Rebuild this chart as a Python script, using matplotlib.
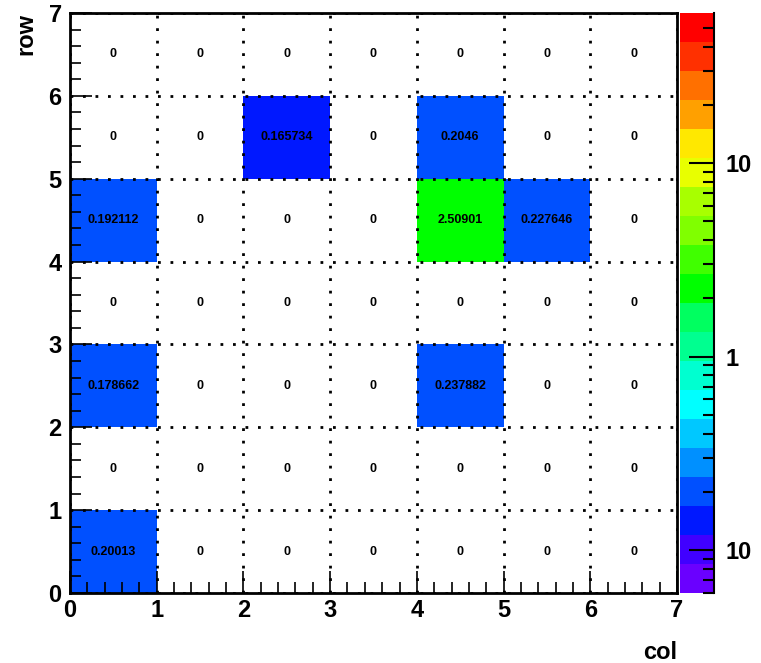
import numpy as np
import matplotlib
matplotlib.use('Agg')
import matplotlib.pyplot as plt
from matplotlib.colors import LogNorm, ListedColormap
from matplotlib.ticker import MultipleLocator, FixedLocator, LogLocator, NullFormatter

plt.rcParams['font.family'] = ['Liberation Sans', 'DejaVu Sans']
plt.rcParams['font.weight'] = 'bold'

# bin edges (col, row) and cell contents, rows listed from row 0 upwards
col_edges = [0, 1, 2, 3, 4, 5, 6, 7]
row_edges = [0, 1, 2, 3, 4, 5, 6, 7]
cell_values = [
    [0.20013, 0, 0, 0, 0, 0, 0],
    [0, 0, 0, 0, 0, 0, 0],
    [0.178662, 0, 0, 0, 0.237882, 0, 0],
    [0, 0, 0, 0, 0, 0, 0],
    [0.192112, 0, 0, 0, 2.50901, 0.227646, 0],
    [0, 0, 0.165734, 0, 0.2046, 0, 0],
    [0, 0, 0, 0, 0, 0, 0],
]
z_min, z_max = 0.06, 59.6
cbar_ticks = [0.1, 1, 10]
cbar_labels = ['10', '1', '10']

# ROOT-like rainbow palette, 20 contour bands from violet to red
band_colors = ['#6a00ff', '#4000ff', '#0018ff', '#0050ff', '#0090ff',
               '#00c8ff', '#00ffff', '#00ffd0', '#00ff90', '#00ff60',
               '#00ff00', '#40ff00', '#80ff00', '#a8ff00', '#e8ff00',
               '#ffe800', '#ffa000', '#ff7000', '#ff3000', '#ff0000']
palette = ListedColormap(band_colors)

vals = np.array(cell_values, dtype=float)
masked = np.ma.masked_where(vals <= 0, vals)

fig = plt.figure(figsize=(7.61, 6.63), dpi=100)
ax = fig.add_axes([70 / 761, 70 / 663, 607 / 761, 580 / 663])
cax = fig.add_axes([680 / 761, 70 / 663, 34 / 761, 580 / 663])

mesh = ax.pcolormesh(col_edges, row_edges, masked, cmap=palette,
                     norm=LogNorm(vmin=z_min, vmax=z_max))

# bin contents as text
for r in range(len(row_edges) - 1):
    for c in range(len(col_edges) - 1):
        ax.text(c + 0.5, r + 0.5, '%g' % vals[r, c], ha='center', va='center',
                fontsize=9, fontweight='bold')

ax.set_xlim(col_edges[0], col_edges[-1])
ax.set_ylim(row_edges[0], row_edges[-1])
ax.xaxis.set_major_locator(MultipleLocator(1))
ax.yaxis.set_major_locator(MultipleLocator(1))
ax.xaxis.set_minor_locator(MultipleLocator(0.2))
ax.yaxis.set_minor_locator(MultipleLocator(0.2))
ax.tick_params(which='both', direction='in', top=False, right=False,
               labelsize=17, width=1.2)
ax.tick_params(which='major', length=16)
ax.tick_params(which='minor', length=8)
ax.tick_params(axis='x', pad=4)
ax.tick_params(axis='y', pad=6)
for lab in ax.get_xticklabels() + ax.get_yticklabels():
    lab.set_fontweight('bold')
ax.grid(True, which='major', color='black', linestyle=(0, (1, 3.5)), linewidth=2)
ax.set_axisbelow(False)
for sp in ax.spines.values():
    sp.set_linewidth(2)

ax.set_xlabel('col', fontsize=17, fontweight='bold', loc='right', labelpad=14)
ax.set_ylabel('row', fontsize=17, fontweight='bold', loc='top', labelpad=8)

cb = fig.colorbar(mesh, cax=cax)
cb.outline.set_visible(False)
cax.yaxis.set_major_locator(FixedLocator(cbar_ticks))
cax.set_yticklabels(cbar_labels)
cax.yaxis.set_minor_locator(LogLocator(base=10, subs=np.arange(2, 10)))
cax.yaxis.set_minor_formatter(NullFormatter())
cax.tick_params(which='both', direction='in', right=True, left=False,
                labelsize=17, width=1.5, pad=8)
cax.tick_params(which='major', length=18)
cax.tick_params(which='minor', length=8)
for lab in cax.get_yticklabels():
    lab.set_fontweight('bold')
cax.spines['right'].set_visible(True)
cax.spines['right'].set_linewidth(1.5)

fig.savefig('out.png', dpi=100)
